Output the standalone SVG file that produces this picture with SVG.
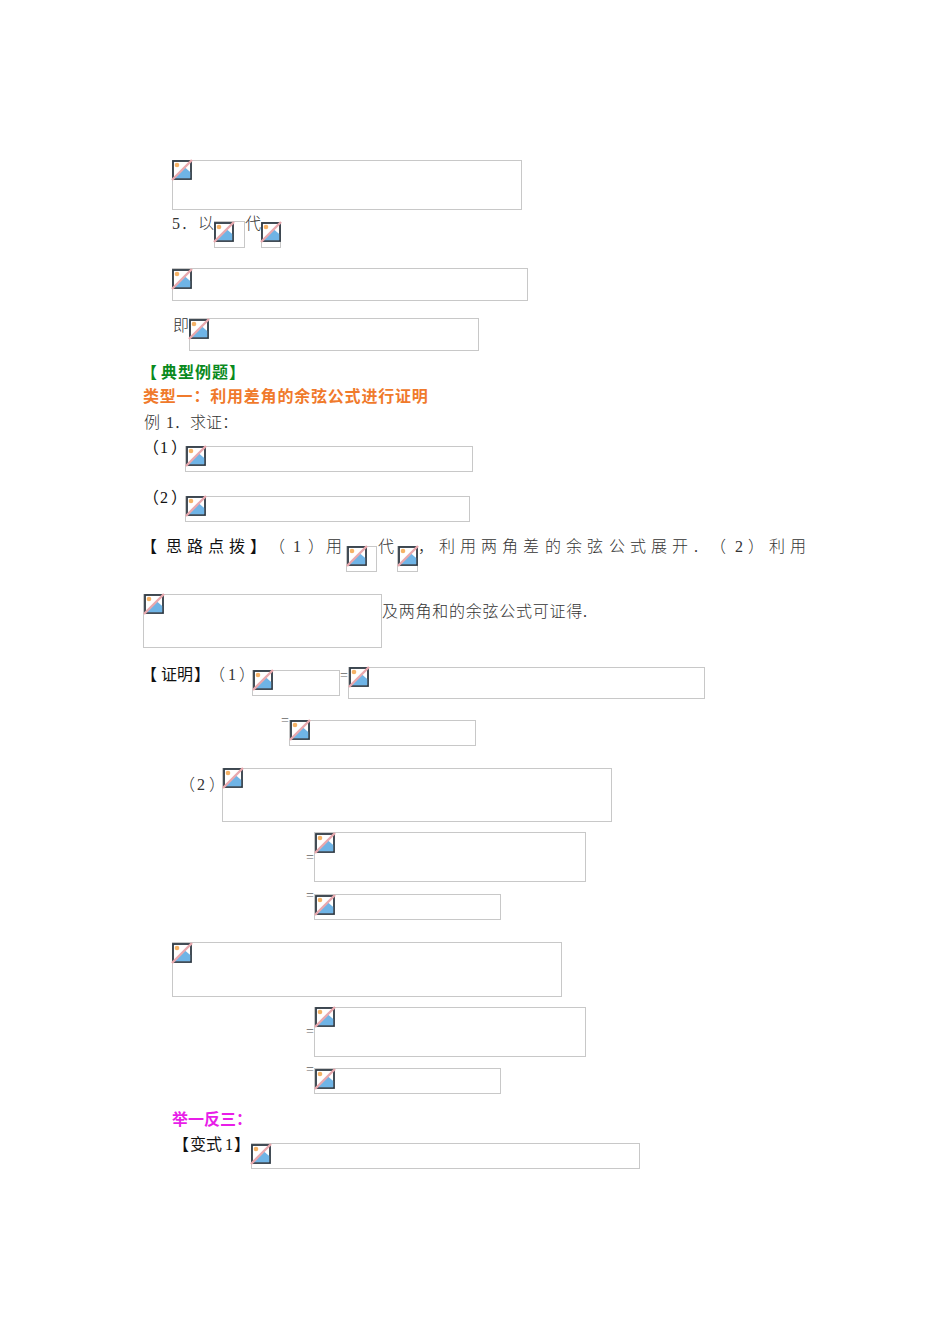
<svg xmlns="http://www.w3.org/2000/svg" width="950" height="1344" viewBox="0 0 950 1344">
<style>
text{font-family:"Liberation Serif","Noto Sans CJK SC",serif;font-size:16px;fill:#333;text-spacing-trim:space-all;font-weight:300}
.b{fill:#fff;stroke:#c8c8c8;stroke-width:1}
.g{fill:#0a8a1e;font-weight:700}
.o{fill:#f07a2c;font-weight:700}
.m{fill:#e81ee8;font-weight:700}
.k{fill:#111;font-weight:400}
.s{font-size:14px;fill:#666}
</style>
<defs>
<g id="ic">
<rect x="1" y="1" width="18" height="18" fill="#fff" stroke="#2f3a44" stroke-width="1.8"/>
<path d="M1.800 18.200 L13 7.500 L18.200 12 V18.200Z" fill="#6fb4e6"/>
<circle cx="5" cy="5" r="2.300" fill="#f5b266"/>
<path d="M0 20 L20 0" stroke="#e8a8ae" stroke-width="2.400"/>
</g>
</defs>
<rect width="950" height="1344" fill="#fff"/>
<g id="boxes">
<rect class="b" x="172.500" y="160.500" width="349" height="49"/>
<rect class="b" x="214.500" y="221.500" width="30" height="26"/>
<rect class="b" x="261.500" y="222.500" width="19" height="25"/>
<rect class="b" x="172.500" y="268.500" width="355" height="32"/>
<rect class="b" x="189.500" y="318.500" width="289" height="32"/>
<rect class="b" x="185.500" y="446.500" width="287" height="25"/>
<rect class="b" x="185.500" y="496.500" width="284" height="25"/>
<rect class="b" x="346.500" y="546.500" width="30" height="25"/>
<rect class="b" x="397.500" y="546.500" width="20" height="25"/>
<rect class="b" x="143.500" y="594.500" width="238" height="53"/>
<rect class="b" x="252.500" y="670.500" width="87" height="25"/>
<rect class="b" x="348.500" y="667.500" width="356" height="31"/>
<rect class="b" x="289.500" y="720.500" width="186" height="25"/>
<rect class="b" x="222.500" y="768.500" width="389" height="53"/>
<rect class="b" x="314.500" y="832.500" width="271" height="49"/>
<rect class="b" x="314.500" y="894.500" width="186" height="25"/>
<rect class="b" x="172.500" y="942.500" width="389" height="54"/>
<rect class="b" x="314.500" y="1007.500" width="271" height="49"/>
<rect class="b" x="314.500" y="1068.500" width="186" height="25"/>
<rect class="b" x="251.500" y="1143.500" width="388" height="25"/>
</g>
<g id="icons">
<use href="#ic" x="172" y="160"/>
<use href="#ic" x="214" y="222"/>
<use href="#ic" x="261" y="222"/>
<use href="#ic" x="172" y="269"/>
<use href="#ic" x="189" y="319"/>
<use href="#ic" x="186" y="446"/>
<use href="#ic" x="186" y="496"/>
<use href="#ic" x="347" y="546"/>
<use href="#ic" x="398" y="546"/>
<use href="#ic" x="144" y="594"/>
<use href="#ic" x="253" y="670"/>
<use href="#ic" x="349" y="667"/>
<use href="#ic" x="290" y="720"/>
<use href="#ic" x="223" y="768"/>
<use href="#ic" x="315" y="833"/>
<use href="#ic" x="315" y="895"/>
<use href="#ic" x="172" y="943"/>
<use href="#ic" x="315" y="1007"/>
<use href="#ic" x="315" y="1069"/>
<use href="#ic" x="251" y="1144"/>
</g>
<g id="texts">
<text x="172 181 198" y="229">5．以</text>
<text x="245" y="229">代</text>
<text x="173" y="331">即</text>
<text class="g" x="141 161 178 195 212 229" y="378">【典型例题】</text>
<text class="o" x="143" y="402" letter-spacing=".8">类型一：利用差角的余弦公式进行证明</text>
<text x="144 166 174 190 206 222" y="428">例1．求证：</text>
<text class="k" x="143 160 171" y="453">（1）</text>
<text class="k" x="143 160 171" y="503">（2）</text>
<text class="k" x="141 166 187 208 229 250" y="552">【思路点拨】</text>
<text x="269 293 308 326" y="552">（1）用</text>
<text x="378" y="552">代</text>
<text x="418 439 460 481 502 523 545 566 587 609 630 651 672 694 710 735 748 769 790" y="552">，利用两角差的余弦公式展开.（2）利用</text>
<text x="382" y="617" letter-spacing=".75">及两角和的余弦公式可证得.</text>
<text class="k" x="141 161 177 194" y="680">【证明】</text>
<text x="209 228 239" y="680">（1）</text>
<text class="s" x="340" y="680">=</text>
<text class="s" x="281" y="725">=</text>
<text x="179 197 209" y="790">（2）</text>
<text class="s" x="306" y="862">=</text>
<text class="s" x="306" y="900">=</text>
<text class="s" x="306" y="1036">=</text>
<text class="s" x="306" y="1074">=</text>
<text class="m" x="172" y="1125">举一反三：</text>
<text class="k" x="173 190 206 225 234" y="1150">【变式1】</text>
</g>
</svg>
